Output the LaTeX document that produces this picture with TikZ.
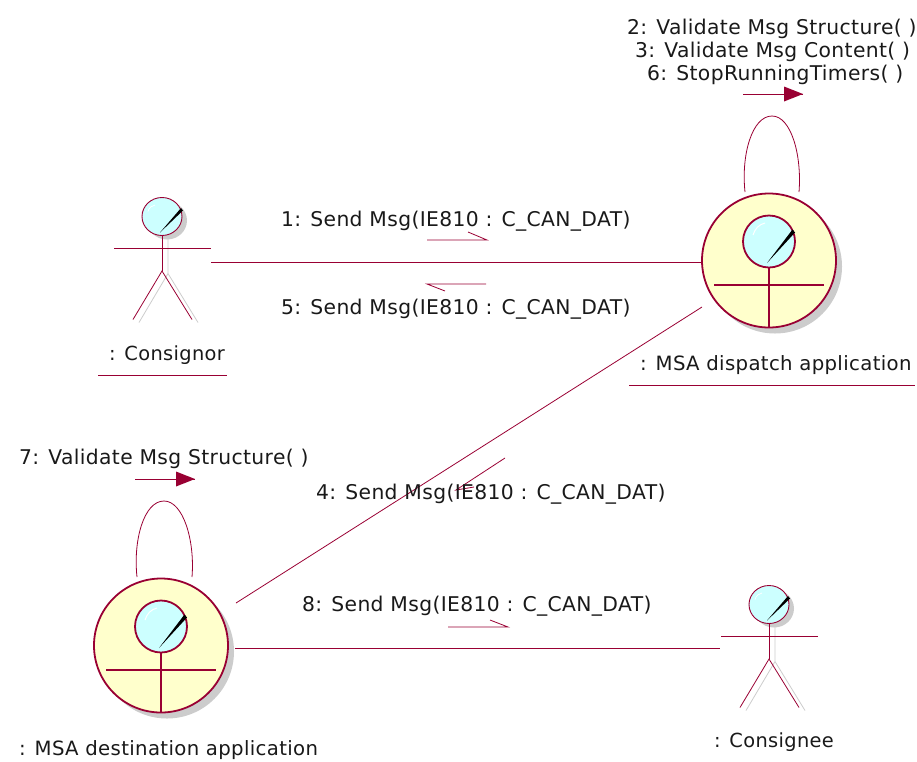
\documentclass[tikz,border=0pt]{standalone}
\usepackage{fontspec}
\usetikzlibrary{shapes.geometric}
\setmainfont[LetterSpace=1.8]{DejaVu Sans}
\definecolor{umlline}{HTML}{990033}
\definecolor{umlfill}{HTML}{FFFFCC}
\definecolor{umlhead}{HTML}{CCFFFF}
\definecolor{umlshadow}{HTML}{CCCCCC}
\tikzset{
  thinline/.style={draw=umlline,line width=0.8pt},
  boldline/.style={draw=umlline,line width=1.8pt},
  shadowline/.style={draw=umlshadow,line width=0.8pt},
  label/.style={anchor=base west,inner sep=0pt,font=\fontsize{20.3pt}{24pt}\selectfont,text=black!90},
  namelabel/.style={anchor=base west,inner sep=0pt,font=\fontsize{19.7pt}{24pt}\selectfont,text=black!90},
  shortlabel/.style={anchor=base west,inner sep=0pt,font=\fontsize{19.4pt}{24pt}\selectfont,text=black!90},
  boundarybody/.style={circle,minimum size=134pt,inner sep=0pt,fill=umlfill,boldline},
}
\newcommand{\actorfig}[3]{%
  \begin{scope}[shift={(#2,#3)}]
    \fill[umlshadow] (5,4) ellipse [x radius=20,y radius=19];
    \draw[shadowline] (6,18) -- (6,57) (-23,106) -- (6,57) -- (36,106);
    \node[ellipse,minimum width=40pt,minimum height=38pt,inner sep=0pt,fill=umlhead,draw=umlline,line width=0.9pt] (#1) at (0,0) {};
    \fill[black] (-2,16) -- (19,-8.5) -- (21,-6) -- cycle;
    \draw[white,line width=0.7pt] (-14,-5) .. controls (-13,-9) and (-10,-11) .. (-7,-11.5);
    \coordinate (#1hip) at (0,54.5);
    \coordinate (#1left) at (-48,31.5);
    \coordinate (#1right) at (49,31.5);
    \coordinate (#1footl) at (-29,103);
    \coordinate (#1footr) at (30,103);
    \draw[draw=umlline,line width=0.9pt] (#1.south) -- (#1hip);
    \draw[thinline] (#1left) -- (#1right);
    \draw[thinline] (#1footl) -- (#1hip) -- (#1footr);
  \end{scope}}
\newcommand{\boundaryfig}[3]{%
  \begin{scope}[shift={(#2,#3)}]
    \fill[umlshadow] (6,6) circle (67);
    \node[boundarybody] (#1) at (0,0) {};
    \node[circle,minimum size=52pt,inner sep=0pt,fill=umlhead,boldline] (#1head) at (0,-19) {};
    \fill[black] (-2,2.5) -- (23.5,-31) -- (26,-28) -- cycle;
    \draw[white,line width=1pt] (-16,-25.5) .. controls (-14,-32) and (-10,-36) .. (-4,-37.5);
    \draw[boldline] (-55,24.5) -- (55,24.5);
    \draw[boldline] (#1head.south) -- (#1.south);
  \end{scope}}
\newcommand{\fullarrow}[3]{%
  \coordinate (#1a) at #2; \coordinate (#1b) at #3;
  \draw[thinline] (#1a) -- (#1b);
  \fill[umlline] (#1b) -- ++(-19,-7.5) -- ++(0,15) -- cycle;}
\begin{document}
\begin{tikzpicture}[x=1pt,y=-1pt]
\useasboundingbox (0,0) rectangle (917,761);
% figures
\boundaryfig{dispatch}{769}{260.5}
\boundaryfig{destination}{161}{645.5}
\actorfig{consignor}{162}{216.5}
\actorfig{consignee}{769}{604.5}
% connectors
\coordinate (consignorend) at (211,262);
\coordinate (dispatchleft) at (702,262);
\draw[thinline] (consignorend) -- (dispatchleft);
\coordinate (dispatchlow) at (702,307);
\coordinate (destup) at (236,603);
\draw[thinline] (dispatchlow) -- (destup);
\coordinate (destright) at (235,648);
\coordinate (consigneeend) at (720,648);
\draw[thinline] (destright) -- (consigneeend);
% self loops
\coordinate (dl) at (745,192); \coordinate (dt) at (772,116); \coordinate (dr) at (799,192);
\draw[thinline] (dl) .. controls (741,155) and (752,116) .. (dt) .. controls (791,116) and (802,155) .. (dr);
\coordinate (sl) at (137,577); \coordinate (st) at (164,501); \coordinate (sr) at (192,577);
\draw[thinline] (sl) .. controls (133,540) and (144,501) .. (st) .. controls (183,501) and (195,540) .. (sr);
% filled arrows
\fullarrow{ma}{(743,94)}{(803,94)}
\fullarrow{mb}{(135,479)}{(195,479)}
% half arrows
\coordinate (h1a) at (427,240); \coordinate (h1b) at (487,240); \coordinate (h1c) at (468,232);
\draw[thinline] (h1a) -- (h1b) -- (h1c);
\coordinate (h5a) at (486,284); \coordinate (h5b) at (427,284); \coordinate (h5c) at (445,291);
\draw[thinline] (h5a) -- (h5b) -- (h5c);
\coordinate (h4a) at (505,458); \coordinate (h4b) at (456,490); \coordinate (h4c) at (474,487);
\draw[thinline] (h4a) -- (h4b) -- (h4c);
\coordinate (h8a) at (448,627); \coordinate (h8b) at (508,627); \coordinate (h8c) at (490,620);
\draw[thinline] (h8a) -- (h8b) -- (h8c);
% underlines
\coordinate (u1a) at (98,375); \coordinate (u1b) at (227,375);
\draw[thinline] (u1a) -- (u1b);
\coordinate (u2a) at (629,385); \coordinate (u2b) at (915,385);
\draw[thinline] (u2a) -- (u2b);
% labels
\node[label] (t2) at (627,34) {2: Validate Msg Structure( )};
\node[label] (t3) at (635,57) {3: Validate Msg Content( )};
\node[label] (t6) at (647,80) {6: StopRunningTimers( )};
\node[label] (t1) at (281,226) {1: Send Msg(IE810 : C\_CAN\_DAT)};
\node[label] (t5) at (281,314) {5: Send Msg(IE810 : C\_CAN\_DAT)};
\node[label] (t4) at (316,499) {4: Send Msg(IE810 : C\_CAN\_DAT)};
\node[label] (t8) at (302,611) {8: Send Msg(IE810 : C\_CAN\_DAT)};
\node[label] (t7) at (19,464) {7: Validate Msg Structure( )};
\node[shortlabel] (n1) at (109,360) {: Consignor};
\node[namelabel] (n2) at (640,370) {: MSA dispatch application};
\node[namelabel] (n3) at (19,755) {: MSA destination application};
\node[shortlabel] (n4) at (714,747) {: Consignee};
\end{tikzpicture}
\end{document}
